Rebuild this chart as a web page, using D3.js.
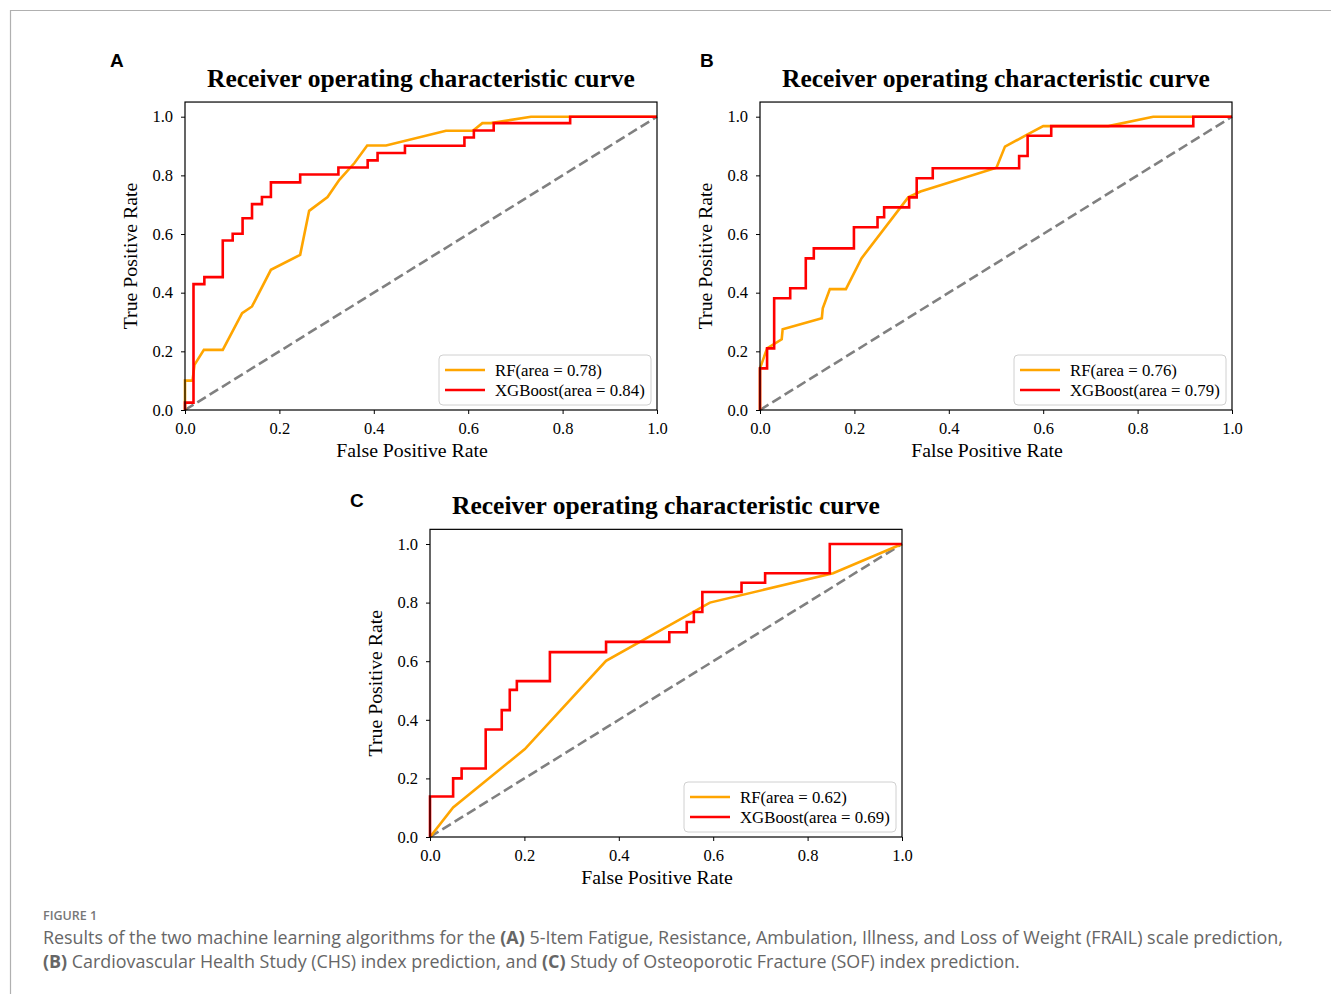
<!DOCTYPE html>
<html><head><meta charset="utf-8">
<script src="https://cdn.jsdelivr.net/npm/d3@7"></script>
<style>
html,body{margin:0;padding:0;background:#fff;}
svg{display:block;}
</style></head>
<body>
<svg id="chart" width="1331" height="994"></svg>
<script>
// ---- data (FPR, TPR) ----
const xTicks = [0.0, 0.2, 0.4, 0.6, 0.8, 1.0];
const yTicks = [0.0, 0.2, 0.4, 0.6, 0.8, 1.0];
const legendLabelsA = ["RF(area = 0.78)", "XGBoost(area = 0.84)"];
const legendLabelsB = ["RF(area = 0.76)", "XGBoost(area = 0.79)"];
const legendLabelsC = ["RF(area = 0.62)", "XGBoost(area = 0.69)"];
const chance = [[0,0],[1,1]];

const rfA = [[0,0],[0,0.1],[0.016,0.1],[0.02,0.154],[0.04,0.205],[0.08,0.205],[0.121,0.33],[0.142,0.353],
  [0.182,0.478],[0.244,0.529],[0.263,0.679],[0.302,0.726],[0.327,0.785],[0.359,0.842],[0.386,0.902],
  [0.426,0.902],[0.553,0.952],[0.61,0.952],[0.63,0.978],[0.648,0.978],[0.733,1.0],[1,1]];
const xgbA = [[0,0],[0,0.025],[0.018,0.025],[0.018,0.429],[0.041,0.429],[0.041,0.453],[0.08,0.453],[0.08,0.578],
  [0.101,0.578],[0.101,0.601],[0.122,0.601],[0.122,0.654],[0.142,0.654],[0.142,0.702],[0.163,0.702],[0.163,0.726],
  [0.182,0.726],[0.182,0.776],[0.244,0.776],[0.244,0.803],[0.325,0.803],[0.325,0.827],[0.387,0.827],[0.387,0.851],
  [0.408,0.851],[0.408,0.876],[0.466,0.876],[0.466,0.901],[0.592,0.901],[0.592,0.929],[0.612,0.929],[0.612,0.953],
  [0.654,0.953],[0.654,0.978],[0.816,0.978],[0.816,1.0],[1,1]];

const rfB = [[0,0],[0,0.142],[0.015,0.21],[0.046,0.241],[0.048,0.275],[0.131,0.313],[0.133,0.347],[0.148,0.412],
  [0.182,0.412],[0.215,0.517],[0.314,0.725],[0.34,0.745],[0.501,0.826],[0.519,0.898],[0.565,0.938],[0.6,0.968],
  [0.738,0.968],[0.833,1.0],[1,1]];
const xgbB = [[0,0],[0,0.142],[0.015,0.142],[0.015,0.21],[0.03,0.21],[0.03,0.381],[0.064,0.381],[0.064,0.415],
  [0.097,0.415],[0.097,0.517],[0.114,0.517],[0.114,0.551],[0.199,0.551],[0.199,0.623],[0.249,0.623],[0.249,0.657],
  [0.263,0.657],[0.263,0.691],[0.316,0.691],[0.316,0.725],[0.332,0.725],[0.332,0.79],[0.366,0.79],[0.366,0.824],
  [0.549,0.824],[0.549,0.866],[0.567,0.866],[0.567,0.935],[0.617,0.935],[0.617,0.968],[0.918,0.968],[0.918,1.0],[1,1]];

const rfC = [[0,0],[0.049,0.101],[0.201,0.3],[0.373,0.601],[0.593,0.8],[0.854,0.9],[1,1]];
const xgbC = [[0,0],[0,0.138],[0.049,0.138],[0.049,0.2],[0.067,0.2],[0.067,0.234],[0.118,0.234],[0.118,0.367],
  [0.152,0.367],[0.152,0.433],[0.169,0.433],[0.169,0.502],[0.184,0.502],[0.184,0.532],[0.254,0.532],[0.254,0.631],
  [0.373,0.631],[0.373,0.666],[0.507,0.666],[0.507,0.699],[0.544,0.699],[0.544,0.734],[0.559,0.734],[0.559,0.768],
  [0.577,0.768],[0.577,0.836],[0.66,0.836],[0.66,0.868],[0.71,0.868],[0.71,0.9],[0.847,0.9],[0.847,1.0],[1,1]];

const titleText = "Receiver operating characteristic curve";
const xLabel = "False Positive Rate";
const yLabel = "True Positive Rate";
const captionHead = "FIGURE 1";

const svg = d3.select("#chart");
const serif = "'Liberation Serif','Times New Roman',Times,serif";
const sans = "'Liberation Sans',Arial,Helvetica,sans-serif";
const COLORS = {rf: "#FFA500", xgb: "#FF0000", chance: "#808080"};

// outer frame
svg.append("path").attr("d","M10.5,994 L10.5,10.5 L1331,10.5")
  .attr("fill","none").attr("stroke","#b0b0b0").attr("stroke-width",1.2);

function drawPanel(cfg){
  const x = d3.scaleLinear().domain([0,1]).range([cfg.x0, cfg.x1]);
  const y = d3.scaleLinear().domain([0,1.05]).range([cfg.y0, cfg.y0 - 1.05*cfg.h]);
  const g = svg.append("g");
  const line = d3.line().x(d=>x(d[0])).y(d=>y(d[1]));
  const clipId = "clip"+cfg.letter;
  svg.append("clipPath").attr("id",clipId).append("rect")
    .attr("x",cfg.x0-2).attr("y",y(1.05)).attr("width",cfg.x1-cfg.x0+4).attr("height",cfg.y0-y(1.05)+2);
  const plot = g.append("g").attr("clip-path",`url(#${clipId})`);
  plot.append("path").datum(chance).attr("d",line).attr("fill","none")
    .attr("stroke",COLORS.chance).attr("stroke-width",2.6).attr("stroke-dasharray","10,4.5");
  plot.append("path").datum(cfg.rf).attr("d",line).attr("fill","none")
    .attr("stroke",COLORS.rf).attr("stroke-width",2.6).attr("stroke-linejoin","miter");
  plot.append("path").datum(cfg.xgb).attr("d",line).attr("fill","none")
    .attr("stroke",COLORS.xgb).attr("stroke-width",2.6).attr("stroke-linejoin","miter");

  // spines
  g.append("rect").attr("x",cfg.x0).attr("y",y(1.05)).attr("width",cfg.x1-cfg.x0).attr("height",cfg.y0-y(1.05))
    .attr("fill","none").attr("stroke","#000").attr("stroke-width",1.2);

  // axes
  const xa = g.append("g").attr("transform",`translate(0,${cfg.y0})`)
    .call(d3.axisBottom(x).tickValues(xTicks).tickFormat(d3.format(".1f")).tickSize(4).tickPadding(8));
  const ya = g.append("g").attr("transform",`translate(${cfg.x0},0)`)
    .call(d3.axisLeft(y).tickValues(yTicks).tickFormat(d3.format(".1f")).tickSize(4).tickPadding(8));
  [xa,ya].forEach(a=>{
    a.select(".domain").remove();
    a.selectAll("line").attr("stroke","#000").attr("stroke-width",1);
    a.selectAll("text").attr("font-family",serif).attr("font-size",16.5).attr("fill","#000");
  });

  // title, labels
  g.append("text").attr("x",(cfg.x0+cfg.x1)/2).attr("y",y(1.05)-15).attr("text-anchor","middle")
    .attr("font-family",serif).attr("font-weight","bold").attr("font-size",25.5).text(titleText);
  g.append("text").attr("x",(cfg.x0+cfg.x1)/2 - 9).attr("y",cfg.y0+47).attr("text-anchor","middle")
    .attr("font-family",serif).attr("font-size",19.8).text(xLabel);
  g.append("text").attr("transform",`translate(${cfg.x0-48},${y(0.525)}) rotate(-90)`).attr("text-anchor","middle")
    .attr("font-family",serif).attr("font-size",19.8).text(yLabel);
  g.append("text").attr("x",cfg.lx).attr("y",cfg.ly).attr("font-family",sans).attr("font-weight","bold")
    .attr("font-size",19).text(cfg.letter);

  // legend
  const lw = 212, lh = 50;
  const lx = cfg.x1 - 6 - lw, ly = cfg.y0 - 5 - lh;
  const lg = g.append("g");
  lg.append("rect").attr("x",lx).attr("y",ly).attr("width",lw).attr("height",lh).attr("rx",4)
    .attr("fill","#fff").attr("fill-opacity",0.85).attr("stroke","#d0d0d0").attr("stroke-width",1);
  [[COLORS.rf,cfg.legend[0]],[COLORS.xgb,cfg.legend[1]]].forEach((it,i)=>{
    const yy = ly + 15 + i*20;
    lg.append("line").attr("x1",lx+6).attr("x2",lx+46).attr("y1",yy).attr("y2",yy)
      .attr("stroke",it[0]).attr("stroke-width",2.6);
    lg.append("text").attr("x",lx+56).attr("y",yy+5.5).attr("font-family",serif).attr("font-size",16.8).text(it[1]);
  });
}

drawPanel({letter:"A", x0:185, x1:657, y0:410, h:293.3, rf:rfA, xgb:xgbA, legend:legendLabelsA, lx:110, ly:67});
drawPanel({letter:"B", x0:760, x1:1232, y0:410, h:293.3, rf:rfB, xgb:xgbB, legend:legendLabelsB, lx:700, ly:67});
drawPanel({letter:"C", x0:430, x1:902, y0:837, h:293, rf:rfC, xgb:xgbC, legend:legendLabelsC, lx:350, ly:507});

// caption
const cap = svg.append("g").attr("font-family","'Open Sans','Noto Sans',sans-serif");
cap.append("text").attr("x",43).attr("y",920).attr("font-size",12.5).attr("font-weight",600).attr("fill","#777").text(captionHead);
const l1 = cap.append("text").attr("x",43).attr("y",944).attr("font-size",17.9).attr("fill","#666");
l1.append("tspan").text("Results of the two machine learning algorithms for the ");
l1.append("tspan").attr("font-weight",700).text("(A)");
l1.append("tspan").text(" 5-Item Fatigue, Resistance, Ambulation, Illness, and Loss of Weight (FRAIL) scale prediction,");
const l2 = cap.append("text").attr("x",43).attr("y",968).attr("font-size",17.9).attr("fill","#666");
l2.append("tspan").attr("font-weight",700).text("(B)");
l2.append("tspan").text(" Cardiovascular Health Study (CHS) index prediction, and ");
l2.append("tspan").attr("font-weight",700).text("(C)");
l2.append("tspan").text(" Study of Osteoporotic Fracture (SOF) index prediction.");
</script>
</body></html>
